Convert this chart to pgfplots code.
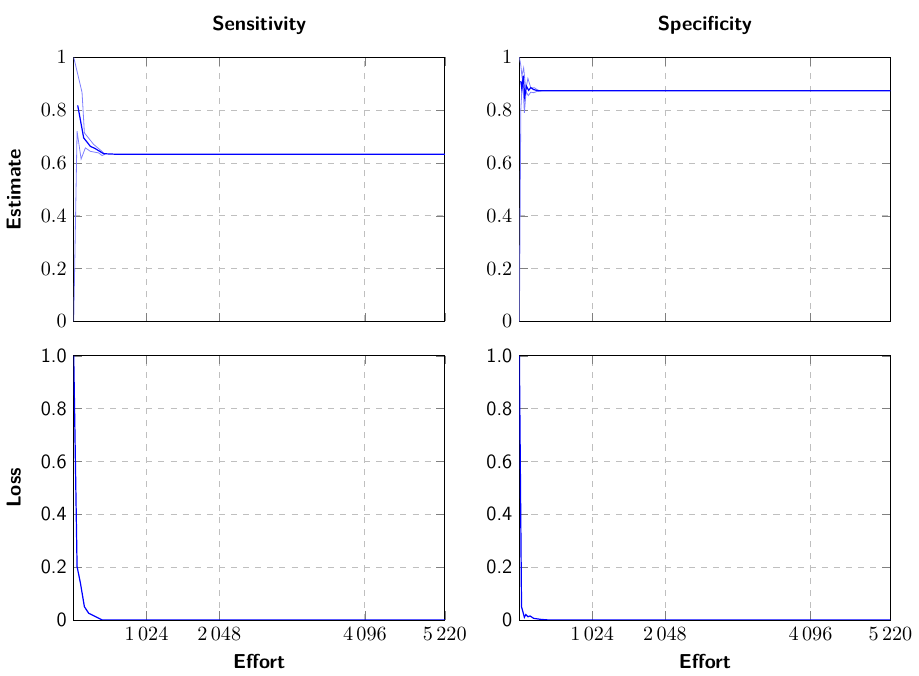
\documentclass[border=0pt]{standalone}
\usepackage{pgfplots}
\pgfplotsset{compat=1.18}
\usepgfplotslibrary{groupplots}

% mean and band curves
\pgfplotstableread{
x y
56 0.818
140 0.695
234 0.663
305 0.654
421 0.635
600 0.633
5220 0.633
}\sensmean
\pgfplotstableread{
x y
0 1.0
117 0.867
150 0.714
281 0.670
397 0.644
440 0.633
}\senshi
\pgfplotstableread{
x y
0 0.0
47 0.720
104 0.615
164 0.657
234 0.644
351 0.638
398 0.628
440 0.633
}\senslo
\pgfplotstableread{
x y
20 0.91
35 0.88
55 0.93
75 0.85
100 0.89
130 0.875
160 0.885
200 0.878
250 0.874
300 0.873
5220 0.873
}\specmean
\pgfplotstableread{
x y
0 1.0
20 0.97
35 0.93
60 0.96
90 0.88
120 0.92
160 0.885
210 0.885
245 0.878
280 0.874
320 0.873
}\spechi
\pgfplotstableread{
x y
0 0.0
20 0.80
45 0.93
70 0.79
95 0.87
125 0.855
160 0.868
200 0.866
250 0.871
300 0.873
}\speclo
\pgfplotstableread{
x y
0 1.0
47 0.202
94 0.140
150 0.050
211 0.025
281 0.016
398 0.0
5220 0.0
}\sensloss
\pgfplotstableread{
x y
0 1.0
30 0.05
50 0.03
70 0.010
90 0.020
120 0.012
150 0.015
200 0.006
300 0.002
400 0.0
5220 0.0
}\specloss

\begin{document}
\begin{tikzpicture}
\begin{groupplot}[
  group style={group size=2 by 2, horizontal sep=37pt, vertical sep=17pt,
    xticklabels at=edge bottom},
  scale only axis, width=184pt, height=131pt,
  xmin=0, xmax=5220, ymin=0, ymax=1,
  xtick={1024,2048,4096,5220},
  scaled x ticks=false,
  xticklabel style={/pgf/number format/1000 sep={\,}},
  grid=major, grid style={dashed, gray!50},
  title style={font=\sffamily\bfseries, yshift=1.5pt, text height=12pt},
  label style={font=\sffamily\bfseries},
  ylabel style={yshift=3pt},
  every axis plot/.append style={no marks},
]
\nextgroupplot[title={Sensitivity}, ylabel={Estimate}]
\addplot[blue!50] table {\senshi};
\addplot[blue!50] table {\senslo};
\addplot[blue, line width=0.6pt] table {\sensmean};
\nextgroupplot[title={Specificity}]
\addplot[blue!50] table {\spechi};
\addplot[blue!50] table {\speclo};
\addplot[blue, line width=0.6pt] table {\specmean};
\nextgroupplot[ylabel={Loss}, xlabel={Effort},
  ytick={0,0.2,0.4,0.6,0.8,1}, yticklabels={0,0.2,0.4,0.6,0.8,1.0},
  yticklabel style={font=\sffamily}]
\addplot[blue, line width=0.6pt] table {\sensloss};
\nextgroupplot[xlabel={Effort},
  ytick={0,0.2,0.4,0.6,0.8,1}, yticklabels={0,0.2,0.4,0.6,0.8,1.0},
  yticklabel style={font=\sffamily}]
\addplot[blue, line width=0.6pt] table {\specloss};
\end{groupplot}
\end{tikzpicture}
\end{document}
